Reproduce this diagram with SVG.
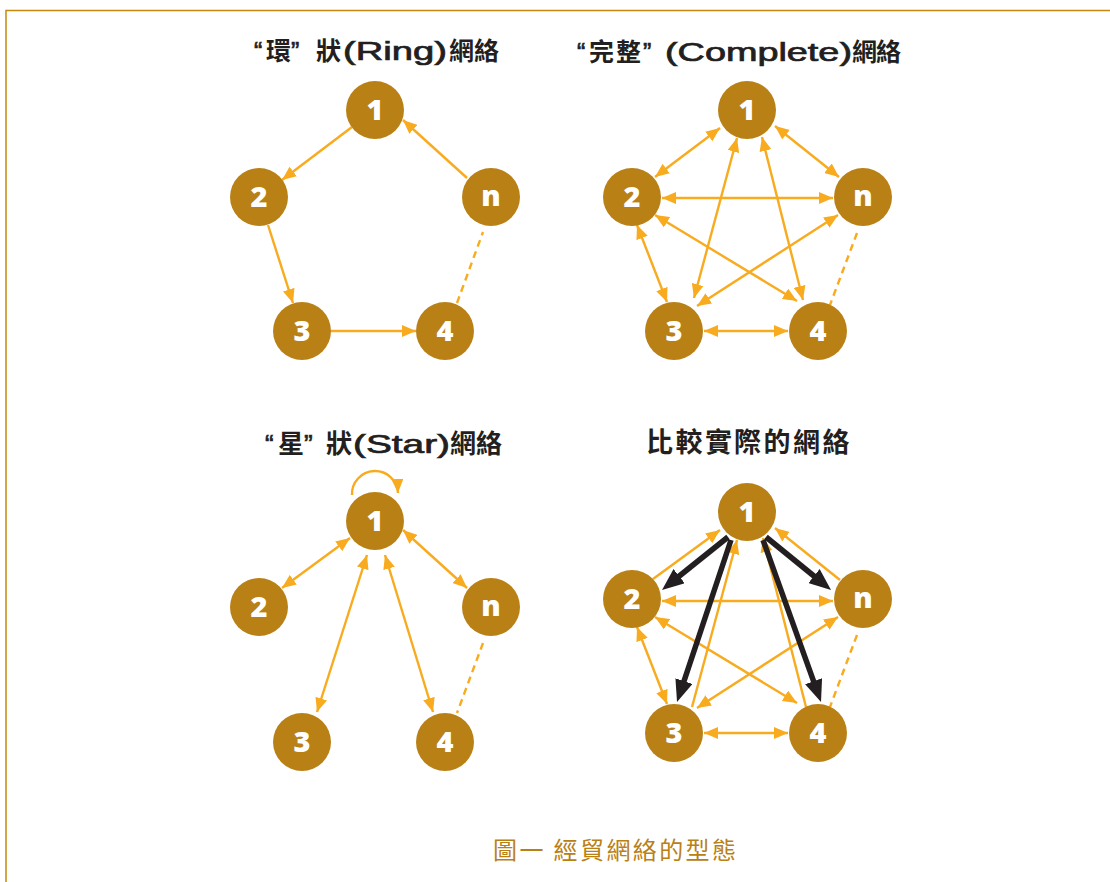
<svg xmlns="http://www.w3.org/2000/svg" width="1110" height="882" viewBox="0 0 1110 882">
  <style>
    .cjk { font-family: "Noto Sans CJK TC", sans-serif; font-weight: 700; fill: #231F20; }
    .lat { font-family: "Liberation Sans", "Noto Sans CJK TC", sans-serif; font-weight: 400; fill: #231F20; stroke: #231F20; stroke-width: 0.7; }
    .caption { font-family: "Noto Sans CJK TC", sans-serif; font-size: 24px; fill: #B98016; }
    .node circle { fill: #B98016; }
    .node text { font-family: "Open Sans", "Liberation Sans", sans-serif; font-weight: 800; font-size: 29px; fill: #FFFFFF; text-anchor: middle; }
    .edge { stroke: #F8AB1E; stroke-width: 2.4; fill: none; }
    .both { marker-start: url(#ah); marker-end: url(#ah); }
    .end { marker-end: url(#ah); }
    .dash { stroke-dasharray: 7 5; }
    .heavy { stroke: #231F20; stroke-width: 5.5; fill: none; marker-end: url(#bh); }
  </style>
  <defs>
    <marker id="ah" markerUnits="userSpaceOnUse" markerWidth="14" markerHeight="12" viewBox="0 0 14 12" refX="14" refY="6" orient="auto-start-reverse">
      <path d="M0,0 L14,6 L0,12 z" fill="#F8AB1E"/>
    </marker>
    <marker id="bh" markerUnits="userSpaceOnUse" markerWidth="22" markerHeight="18" viewBox="0 0 22 18" refX="11" refY="9" orient="auto">
      <path d="M0,0 L22,9 L0,18 z" fill="#231F20"/>
    </marker>
  </defs>

  <rect width="1110" height="882" fill="#FFFFFF"/>
  <!-- frame -->
  <path d="M6,882 V10.5 H1110" fill="none" stroke="#C8880E" stroke-width="1.5"/>

  <!-- panel titles -->
  <g id="title-ring" font-size="25">
    <text class="lat" x="254" y="60">“</text>
    <text class="cjk" x="266" y="60">環</text>
    <text class="lat" x="291" y="60">”</text>
    <text class="cjk" x="316" y="60">狀</text>
    <text class="lat" x="343" y="60" textLength="104" lengthAdjust="spacingAndGlyphs">(Ring)</text>
    <text class="cjk" x="449 474" y="60">網絡</text>
  </g>
  <g id="title-complete" font-size="25">
    <text class="lat" x="577" y="61">“</text>
    <text class="cjk" x="589 616" y="61">完整</text>
    <text class="lat" x="643" y="61">”</text>
    <text class="lat" x="665" y="61" textLength="187" lengthAdjust="spacingAndGlyphs">(Complete)</text>
    <text class="cjk" x="852 876" y="61">網絡</text>
  </g>
  <g id="title-star" font-size="26">
    <text class="lat" x="265" y="453">“</text>
    <text class="cjk" x="278" y="453">星</text>
    <text class="lat" x="304" y="453">”</text>
    <text class="cjk" x="326" y="453">狀</text>
    <text class="lat" x="353" y="453" textLength="97" lengthAdjust="spacingAndGlyphs">(Star)</text>
    <text class="cjk" x="450 476" y="453">網絡</text>
  </g>
  <g id="title-real" font-size="27">
    <text class="cjk" x="646 675.5 705 734 763.5 793 822.5" y="452">比較實際的網絡</text>
  </g>

  <!-- connectors -->
  <g id="connectors">
    <!-- ring -->
    <path class="edge end" d="M352,127 L282,180"/>
    <path class="edge end" d="M268,225 L293,303"/>
    <path class="edge end" d="M331,331 L416,331"/>
    <path class="edge end" d="M467,178 L403,120"/>
    <path class="edge dash" d="M457,303 L483,232"/>

    <!-- complete -->
    <path class="edge both" d="M720,128 L655,177"/>
    <path class="edge both" d="M775,126 L839,177"/>
    <path class="edge both" d="M662,198 L833,198"/>
    <path class="edge both" d="M637,225 L667,302"/>
    <path class="edge both" d="M737,138 L694,298"/>
    <path class="edge both" d="M762,137 L803,300"/>
    <path class="edge both" d="M655,215 L797,301"/>
    <path class="edge both" d="M697,306 L838,215"/>
    <path class="edge both" d="M704,331 L788,331"/>
    <path class="edge dash" d="M857,233 L830,305"/>

    <!-- star -->
    <path class="edge end" d="M352,495 A23,23 0 0 1 398,493"/>
    <path class="edge both" d="M350,538 L282,588"/>
    <path class="edge both" d="M403,530 L467,588"/>
    <path class="edge both" d="M367,555 L317,712"/>
    <path class="edge both" d="M385,555 L433,712"/>
    <path class="edge dash" d="M483,643 L457,713"/>

    <!-- observed -->
    <path class="edge end" d="M653,579 L720,530"/>
    <path class="edge end" d="M840,580 L775,528"/>
    <path class="edge end" d="M692,707 L737,540"/>
    <path class="edge end" d="M806,707 L763,538"/>
    <path class="edge both" d="M662,601 L833,601"/>
    <path class="edge both" d="M637,627 L667,704"/>
    <path class="edge both" d="M655,617 L797,703"/>
    <path class="edge both" d="M697,708 L838,617"/>
    <path class="edge both" d="M704,733 L788,733"/>
    <path class="edge dash" d="M857,635 L830,707"/>
    <path class="heavy" d="M728,537 L670.6,583"/>
    <path class="heavy" d="M731,540 L680.5,691.6"/>
    <path class="heavy" d="M766,537 L822.5,583"/>
    <path class="heavy" d="M763,540 L817.3,691.6"/>
  </g>

  <!-- ring nodes -->
  <g id="ring-1" class="node"><circle cx="375" cy="110" r="29"/><text x="375" y="120">1</text></g>
  <g id="ring-2" class="node"><circle cx="259" cy="197" r="29"/><text x="259" y="207">2</text></g>
  <g id="ring-n" class="node"><circle cx="491" cy="197" r="29"/><text x="491" y="206">n</text></g>
  <g id="ring-3" class="node"><circle cx="302" cy="331" r="29"/><text x="302" y="341">3</text></g>
  <g id="ring-4" class="node"><circle cx="445" cy="331" r="29"/><text x="445" y="341">4</text></g>

  <!-- complete nodes -->
  <g id="complete-1" class="node"><circle cx="747" cy="110" r="29"/><text x="747" y="120">1</text></g>
  <g id="complete-2" class="node"><circle cx="632" cy="197" r="29"/><text x="632" y="207">2</text></g>
  <g id="complete-n" class="node"><circle cx="863" cy="197" r="29"/><text x="863" y="206">n</text></g>
  <g id="complete-3" class="node"><circle cx="674" cy="331" r="29"/><text x="674" y="341">3</text></g>
  <g id="complete-4" class="node"><circle cx="818" cy="331" r="29"/><text x="818" y="341">4</text></g>

  <!-- star nodes -->
  <g id="star-1" class="node"><circle cx="375" cy="521" r="29"/><text x="375" y="531">1</text></g>
  <g id="star-2" class="node"><circle cx="259" cy="607" r="29"/><text x="259" y="617">2</text></g>
  <g id="star-n" class="node"><circle cx="491" cy="607" r="29"/><text x="491" y="616">n</text></g>
  <g id="star-3" class="node"><circle cx="302" cy="742" r="29"/><text x="302" y="752">3</text></g>
  <g id="star-4" class="node"><circle cx="445" cy="742" r="29"/><text x="445" y="752">4</text></g>

  <!-- observed network nodes -->
  <g id="real-1" class="node"><circle cx="747" cy="512" r="29"/><text x="747" y="522">1</text></g>
  <g id="real-2" class="node"><circle cx="632" cy="599" r="29"/><text x="632" y="609">2</text></g>
  <g id="real-n" class="node"><circle cx="863" cy="599" r="29"/><text x="863" y="608">n</text></g>
  <g id="real-3" class="node"><circle cx="674" cy="733" r="29"/><text x="674" y="743">3</text></g>
  <g id="real-4" class="node"><circle cx="818" cy="733" r="29"/><text x="818" y="743">4</text></g>

  <!-- caption -->
  <text class="caption" x="493" y="859" textLength="243">圖一 經貿網絡的型態</text>
</svg>
